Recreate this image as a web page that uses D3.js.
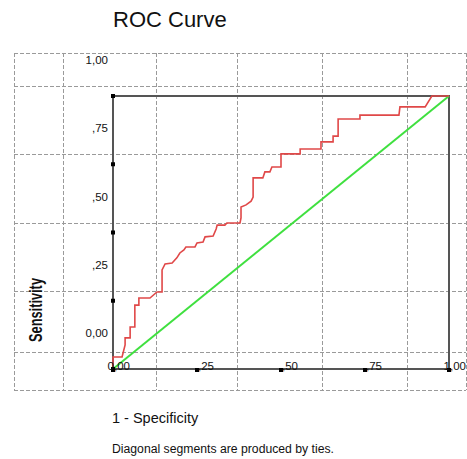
<!DOCTYPE html>
<html>
<head>
<meta charset="utf-8">
<script src="https://cdn.jsdelivr.net/npm/d3@7"></script>
<style>
  body { margin: 0; background: #fff; }
  text { font-family: "Liberation Sans", Arial, sans-serif; fill: #111; }
</style>
</head>
<body>
<svg id="chart" width="467" height="459"></svg>
<script>
// ROC curve points: 1 - specificity (fpr) and sensitivity (tpr)
var fpr = [0, 0, 0.027, 0.036, 0.036, 0.051, 0.051, 0.065, 0.065, 0.077, 0.077, 0.110, 0.131, 0.146,
	0.146, 0.155, 0.176, 0.190, 0.199, 0.211, 0.217, 0.244, 0.250, 0.268, 0.274, 0.298, 0.307, 0.310,
	0.333, 0.339, 0.378, 0.381, 0.381, 0.396, 0.411, 0.417, 0.417, 0.446, 0.452, 0.467, 0.473, 0.500,
	0.500, 0.557, 0.557, 0.619, 0.619, 0.655, 0.655, 0.670, 0.670, 0.735, 0.735, 0.851, 0.854, 0.929,
	0.949, 1];
var tpr = [0, 0.044, 0.044, 0.088, 0.114, 0.114, 0.154, 0.154, 0.234, 0.234, 0.260, 0.260, 0.282, 0.282,
	0.363, 0.385, 0.388, 0.407, 0.425, 0.436, 0.447, 0.447, 0.462, 0.465, 0.484, 0.487, 0.513, 0.527,
	0.527, 0.535, 0.535, 0.553, 0.593, 0.601, 0.615, 0.630, 0.700, 0.700, 0.722, 0.722, 0.740, 0.740,
	0.788, 0.788, 0.806, 0.806, 0.832, 0.832, 0.853, 0.853, 0.916, 0.916, 0.930, 0.930, 0.960, 0.960,
	1, 1];
var refLine = [0, 1];
var tickValues = [0, 0.25, 0.5, 0.75, 1];
var tickLabels = ["0,00", ",25", ",50", ",75", "1,00"];

var svg = d3.select("#chart");

// spss style background grid (layout only)
var gridX = [14, 63, 156, 237, 322, 407, 466];
var gridY = [53, 86, 154, 223, 291, 352, 390];

var x = d3.scaleLinear().domain([0, 1]).range([113, 449]);
var y = d3.scaleLinear().domain([0, 1]).range([369, 96]);

var grid = svg.append("g")
	.attr("stroke", "#9a9a9a")
	.attr("stroke-width", 1)
	.attr("stroke-dasharray", "4,2");
grid.selectAll(".gx").data(gridX).enter()
	.append("line")
	.attr("x1", function(d){ return d + 0.5; })
	.attr("x2", function(d){ return d + 0.5; })
	.attr("y1", gridY[0])
	.attr("y2", gridY[gridY.length - 1]);
grid.selectAll(".gy").data(gridY).enter()
	.append("line")
	.attr("y1", function(d){ return d + 0.5; })
	.attr("y2", function(d){ return d + 0.5; })
	.attr("x1", gridX[0])
	.attr("x2", gridX[gridX.length - 1]);

// frame
var frame = svg.append("g").attr("stroke", "#555").attr("stroke-width", 2).attr("fill", "none");
frame.append("path")
	.attr("d", "M" + x(0) + "," + y(1) + "H" + x(1) + "V" + y(0) + "H" + x(0) + "Z");

// reference diagonal
svg.append("line")
	.attr("x1", x(refLine[0])).attr("y1", y(refLine[0]))
	.attr("x2", x(refLine[1])).attr("y2", y(refLine[1]))
	.attr("stroke", "#3fe03f")
	.attr("stroke-width", 2);

// roc curve
var pts = fpr.map(function(d, i){ return [d, tpr[i]]; });
var line = d3.line()
	.x(function(d){ return x(d[0]); })
	.y(function(d){ return y(d[1]); });
svg.append("path")
	.datum(pts)
	.attr("d", line)
	.attr("fill", "none")
	.attr("stroke", "#e04848")
	.attr("stroke-width", 1.6);

// tick marks
svg.selectAll(".ty").data(tickValues).enter()
	.append("rect")
	.attr("x", x(0) - 2)
	.attr("y", function(d){ return y(d) - 2; })
	.attr("width", 4).attr("height", 4)
	.attr("fill", "#000");
svg.selectAll(".tx").data(tickValues).enter()
	.append("rect")
	.attr("x", function(d){ return x(d) - 2; })
	.attr("y", y(0) - 1)
	.attr("width", 4).attr("height", 4)
	.attr("fill", "#000");

// tick labels (spss offsets them oddly)
svg.selectAll(".ly").data(tickValues).enter()
	.append("text")
	.attr("x", x(0) - 5)
	.attr("y", function(d){ return y(d) - 32; })
	.attr("text-anchor", "end")
	.attr("font-size", 11.5)
	.text(function(d, i){ return tickLabels[i]; });
svg.selectAll(".lx").data(tickValues).enter()
	.append("text")
	.attr("x", function(d){ return x(d) + 17; })
	.attr("y", y(0) + 1)
	.attr("text-anchor", "end")
	.attr("font-size", 11.5)
	.text(function(d, i){ return tickLabels[i]; });

// titles
svg.append("text")
	.attr("x", 113).attr("y", 27)
	.attr("font-size", 22)
	.text("ROC Curve");
svg.append("text")
	.attr("transform", "translate(42,310) rotate(-90)")
	.attr("text-anchor", "middle")
	.attr("font-size", 18)
	.attr("font-weight", "bold")
	.attr("textLength", 64)
	.attr("lengthAdjust", "spacingAndGlyphs")
	.text("Sensitivity");
svg.append("text")
	.attr("x", 112).attr("y", 423)
	.attr("font-size", 14.5)
	.text("1 - Specificity");
svg.append("text")
	.attr("x", 112).attr("y", 453)
	.attr("font-size", 12)
	.attr("textLength", 222)
	.attr("lengthAdjust", "spacingAndGlyphs")
	.text("Diagonal segments are produced by ties.");
</script>
</body>
</html>
